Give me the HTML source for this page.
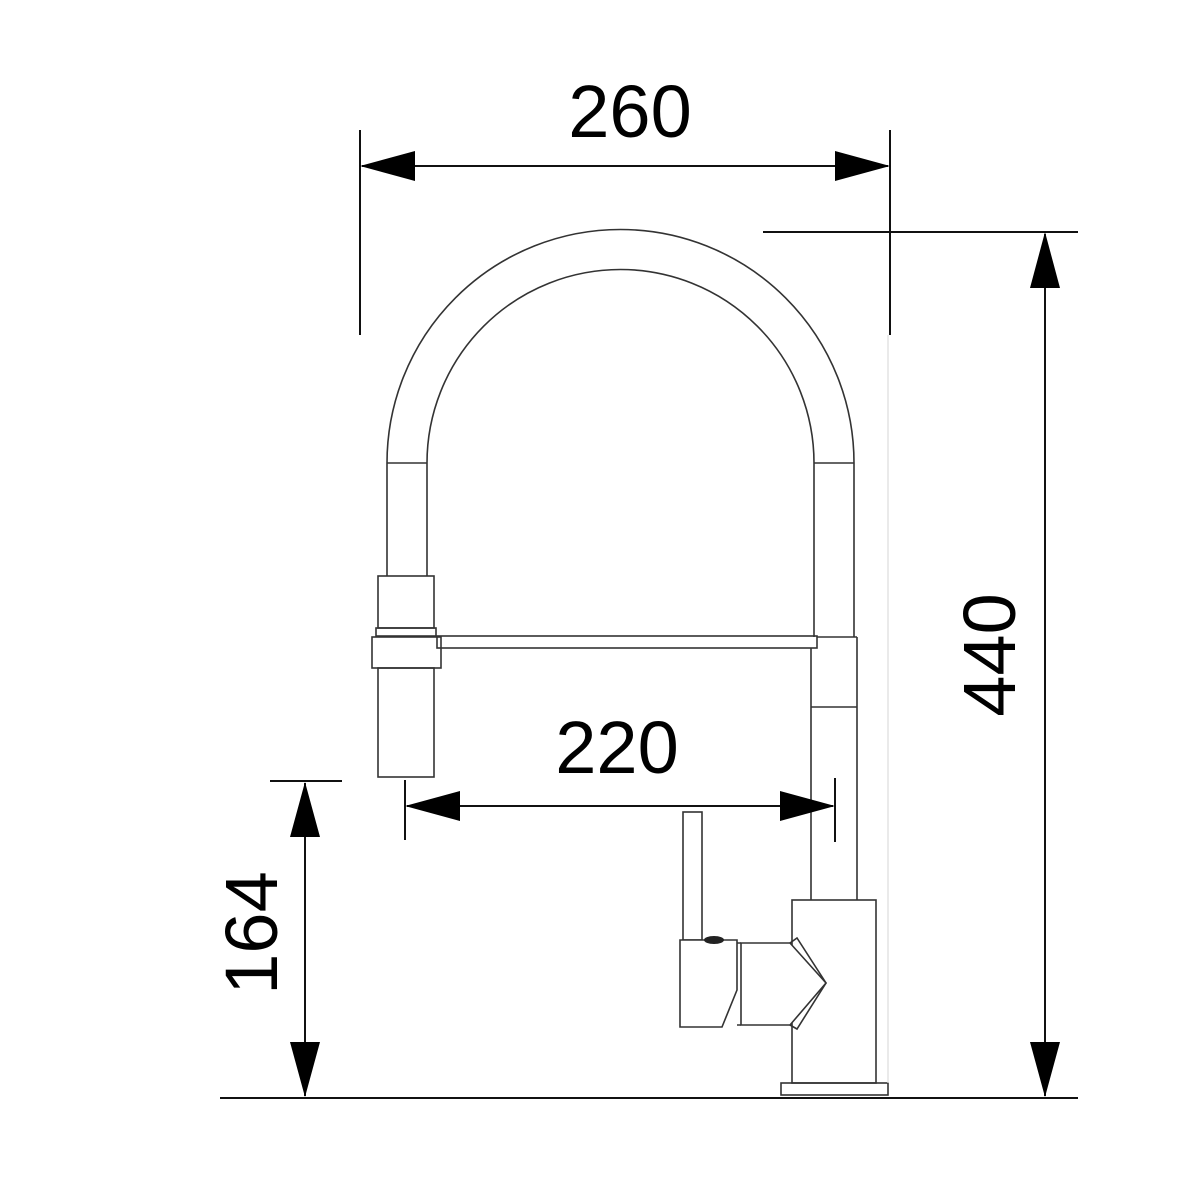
<!DOCTYPE html>
<html><head><meta charset="utf-8"><style>html,body{margin:0;padding:0;background:#fff}svg{display:block}</style></head>
<body>
<svg width="1200" height="1192" viewBox="0 0 1200 1192" xmlns="http://www.w3.org/2000/svg">
<rect width="1200" height="1192" fill="#fff"/>
<g fill="none" stroke="#333" stroke-width="1.6">
  <!-- spout arcs -->
  <path d="M387,463 A233,233 0 0 1 854,463"/>
  <path d="M427,463 A193,193 0 0 1 814,463"/>
  <path d="M387,463 H427 M814,463 H854"/>
  <path d="M387,463 V576 M427,463 V576"/>
  <path d="M814,463 V637 M854,463 V637"/>
  <!-- head -->
  <rect x="378" y="576" width="56" height="52"/>
  <rect x="376" y="628" width="60" height="8"/>
  <rect x="372" y="637" width="69" height="31"/>
  <rect x="378" y="668" width="56" height="109"/>
  <!-- bar -->
  <rect x="437" y="636" width="380" height="12"/>
  <!-- right body -->
  <path d="M811,648 V900 M857,637 V900 M811,707 H857 M817,637 H857"/>
  <!-- base block -->
  <rect x="792" y="900" width="84" height="183"/>
  <rect x="781" y="1083" width="107" height="12"/>
  <!-- handle -->
  <rect x="683" y="812" width="19" height="128" fill="#fff"/>
  <path d="M680,940 H737 V990 L722,1027 H680 Z" fill="#fff"/>
  <path d="M741,943 V1025 H790 L826,983 L790,943 Z" fill="#fff"/>
  <path d="M790,943 L797,938 L826,983 L797,1029 L790,1025"/>
  <path d="M737,943 H741 M737,1025 H741"/>
</g>
<ellipse cx="714" cy="940" rx="10" ry="4" fill="#222"/>
<line x1="888" y1="335" x2="888" y2="1083" stroke="#ddd" stroke-width="1.2"/>
<g stroke="#111" stroke-width="2">
  <!-- 260 -->
  <line x1="360" y1="130" x2="360" y2="335"/>
  <line x1="890" y1="130" x2="890" y2="335"/>
  <line x1="362" y1="166" x2="888" y2="166"/>
  <!-- 440 -->
  <line x1="763" y1="232" x2="1078" y2="232"/>
  <line x1="1045" y1="234" x2="1045" y2="1096"/>
  <!-- 220 -->
  <line x1="405" y1="780" x2="405" y2="840"/>
  <line x1="835" y1="778" x2="835" y2="842"/>
  <line x1="407" y1="806" x2="833" y2="806"/>
  <!-- 164 -->
  <line x1="270" y1="781" x2="342" y2="781"/>
  <line x1="305" y1="783" x2="305" y2="1096"/>
  <!-- ground -->
  <line x1="220" y1="1098" x2="1078" y2="1098"/>
</g>
<g fill="#000">
  <polygon points="360,166 415,151 415,181"/>
  <polygon points="890,166 835,151 835,181"/>
  <polygon points="1045,232 1030,288 1060,288"/>
  <polygon points="1045,1097 1030,1042 1060,1042"/>
  <polygon points="405,806 460,791 460,821"/>
  <polygon points="835,806 780,791 780,821"/>
  <polygon points="305,782 290,837 320,837"/>
  <polygon points="305,1097 290,1042 320,1042"/>
</g>
<g font-family="Liberation Sans, Arial, sans-serif" font-size="74" fill="#000" text-anchor="middle">
  <text x="630" y="137">260</text>
  <text x="617" y="773">220</text>
  <text x="1015" y="655" transform="rotate(-90 1015 655)">440</text>
  <text x="277" y="933" transform="rotate(-90 277 933)">164</text>
</g>
</svg>
</body></html>
